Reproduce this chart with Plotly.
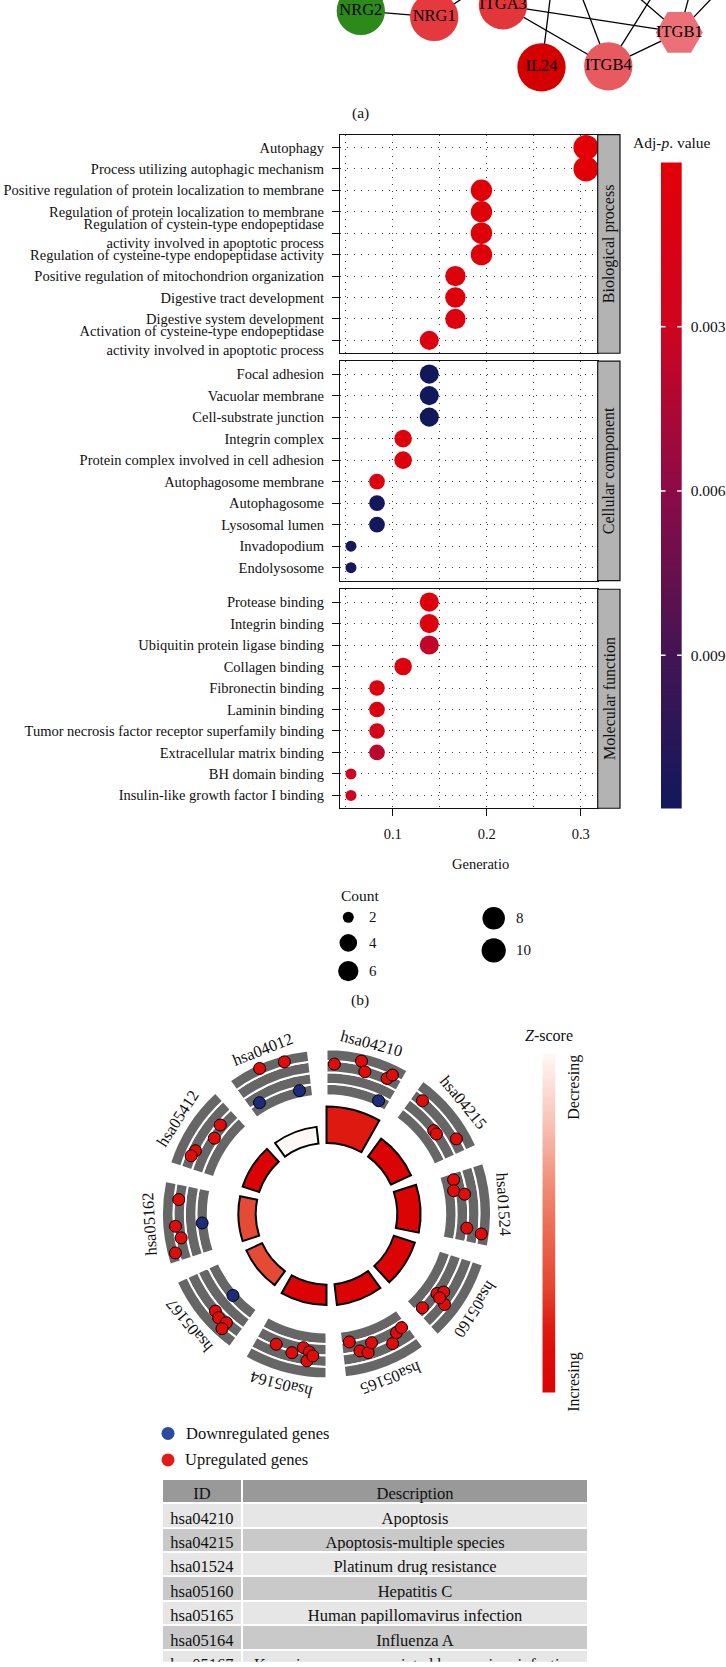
import numpy as np
import plotly.graph_objects as go

W, H = 726, 1667
SERIF = "Liberation Serif"
INK = "#111111"

# ---------------- (a) PPI network (bottom edge of the crop) ----------------
node_label = ["NRG2", "NRG1", "ITGA3", "IL24", "ITGB4", "ITGB1"]
node_x = [360.8, 434.2, 503.0, 541.5, 608.3, 679.3]
node_y = [11.0, 17.0, 5.3, 67.5, 66.5, 32.5]
node_fill = ["#2b8a1a", "#e4393f", "#e3363b", "#d40000", "#e75a60", "#eb7078"]
node_shape = ["circle", "circle", "circle", "circle", "circle", "hexagon2"]
# neighbours that lie above the cropped top edge (only their edges are visible)
offpage_x = [555, 568, 675, 595, 699, 748, 498, 430]
offpage_y = [-40, -40, -40, -40, -40, -40, -25, -25]
edge_from = ["NRG2", "ITGA3", "ITGA3", "ITGB4", "IL24", "ITGB4", "ITGB4", "ITGB1", "ITGB1", "ITGB1", "NRG1", "NRG2"]
edge_to = ["NRG1", "ITGB1", "ITGB4", "ITGB1", 0, 1, 2, 3, 4, 5, 6, 7]

# ---------------- (b) GO enrichment dot plot ----------------
bp_terms = ["Autophagy", "Process utilizing autophagic mechanism",
            "Positive regulation of protein localization to membrane",
            "Regulation of protein localization to membrane",
            "Regulation of cystein-type endopeptidase<br>activity involved in apoptotic process",
            "Regulation of cysteine-type endopeptidase activity",
            "Positive regulation of mitochondrion organization",
            "Digestive tract development", "Digestive system development",
            "Activation of cysteine-type endopeptidase<br>activity involved in apoptotic process"]
bp_ratio = [0.3056, 0.3056, 0.1944, 0.1944, 0.1944, 0.1944, 0.1667, 0.1667, 0.1667, 0.1389]
bp_count = [11, 11, 7, 7, 7, 7, 6, 6, 6, 5]
bp_padj = [0.00003, 0.00003, 0.0003, 0.0004, 0.0004, 0.0005, 0.0006, 0.0007, 0.0008, 0.0009]

cc_terms = ["Focal adhesion", "Vacuolar membrane", "Cell-substrate junction", "Integrin complex",
            "Protein complex involved in cell adhesion", "Autophagosome membrane", "Autophagosome",
            "Lysosomal lumen", "Invadopodium", "Endolysosome"]
cc_ratio = [0.1389, 0.1389, 0.1389, 0.1111, 0.1111, 0.0833, 0.0833, 0.0833, 0.0556, 0.0556]
cc_count = [5, 5, 5, 4, 4, 3, 3, 3, 2, 2]
cc_padj = [0.0118, 0.0118, 0.0118, 0.0006, 0.0006, 0.0009, 0.0117, 0.0117, 0.0115, 0.0115]

mf_terms = ["Protease binding", "Integrin binding", "Ubiquitin protein ligase binding", "Collagen binding",
            "Fibronectin binding", "Laminin binding", "Tumor necrosis factor receptor superfamily binding",
            "Extracellular matrix binding", "BH domain binding", "Insulin-like growth factor I binding"]
mf_ratio = [0.1389, 0.1389, 0.1389, 0.1111, 0.0833, 0.0833, 0.0833, 0.0833, 0.0556, 0.0556]
mf_count = [5, 5, 5, 4, 3, 3, 3, 3, 2, 2]
mf_padj = [0.0007, 0.0008, 0.0035, 0.0008, 0.0010, 0.0010, 0.0020, 0.0038, 0.0030, 0.0030]

facet_names = ["Biological process", "Cellular component", "Molecular function"]
count_legend = [2, 4, 6, 8, 10]
padj_ticks = [0.003, 0.006, 0.009]
gene_ratio_ticks = [0.1, 0.2, 0.3]

# ---------------- (c) KEGG GOCircle ----------------
kegg_id = ["hsa04210", "hsa04215", "hsa01524", "hsa05160", "hsa05165",
           "hsa05164", "hsa05167", "hsa05162", "hsa05412", "hsa04012"]
kegg_neglogp = [6.1, 3.7, 3.9, 3.7, 3.5, 3.4, 2.9, 2.9, 2.9, 2.8]
kegg_zscore = [1.63, 2.0, 2.24, 2.24, 2.65, 2.45, 1.34, 1.34, 2.0, 0.0]

gene_theta = [3.0, 12.9, 15.1, 24.1, 25.4, 24.7,
              40.3, 52.2, 54.0, 60.0,
              75.0, 79.7, 81.9, 95.8, 97.4,
              134.4, 125.8, 123.7, 127.5, 126.6,
              169.9, 166.3, 163.3, 160.7, 153.0, 149.5, 146.6,
              201.1, 194.0, 189.8, 187.1, 187.6, 185.5,
              228.9, 228.8, 226.1, 222.6, 222.3,
              275.5, 265.8, 265.3, 260.6, 255.5,
              309.9, 304.0, 295.7, 293.2,
              335.3, 344.5, 347.6, 328.9]
gene_r = [150.4, 157.2, 147.6, 148.8, 154.1, 124.9,
          148.8, 136.1, 136.3, 150.4,
          132.0, 129.6, 139.9, 141.5, 156.5,
          134.6, 136.6, 141.3, 149.3, 141.3,
          130.5, 141.5, 145.3, 136.9, 146.0, 138.3, 136.7,
          140.2, 143.5, 136.2, 139.6, 148.8, 143.2,
          124.5, 148.1, 150.2, 148.4, 155.7,
          148.9, 125.1, 152.0, 147.8, 156.5,
          138.9, 135.7, 145.9, 147.7,
          160.5, 158.2, 126.5, 130.2]
gene_reg = (["up"] * 5 + ["down"] + ["up"] * 4 + ["up"] * 5 + ["up"] * 5 + ["up"] * 7 + ["up"] * 6
            + ["down"] + ["up"] * 4 + ["up", "down", "up", "up", "up"] + ["up"] * 4
            + ["up", "up", "down", "down"])
gene_legend = ["Downregulated genes", "Upregulated genes"]

table_id = ["hsa04210", "hsa04215", "hsa01524", "hsa05160", "hsa05165", "hsa05164", "hsa05167"]
table_desc = ["Apoptosis", "Apoptosis-multiple species", "Platinum drug resistance", "Hepatitis C",
              "Human papillomavirus infection", "Influenza A",
              "Kaposi sarcoma-associated herpesvirus infection"]

# ---------------- styles / scales ----------------
P_SCALE = [[0, "#e20006"], [0.25, "#cf0420"], [0.5, "#8e0b46"], [0.75, "#461453"], [1, "#11185c"]]
P_MIN, P_MAX = 0.0, 0.0118
Z_SCALE = [[0, "#fff8f6"], [0.2, "#f8c4b8"], [0.4, "#ef8a72"], [0.5, "#ec7058"],
           [0.68, "#e54833"], [0.8, "#df1d12"], [0.88, "#dc0d08"], [1, "#da0404"]]
Z_MIN, Z_MAX = 0.0, 2.0
RED, NAVY = "#e00b0b", "#1c2b7a"


def size_scale(c):
    c = np.asarray(c, dtype=float)
    return 11 + 14 * np.sqrt((c - 2) / 9)


def px(x, y):
    return x / W, 1 - y / H


def ann(text, x, y, size, angle=0, xanchor="center", yanchor="middle"):
    ax_, ay_ = px(x, y)
    return dict(text=text, x=ax_, y=ay_, xref="paper", yref="paper", showarrow=False,
                font=dict(family=SERIF, size=size, color=INK), textangle=angle,
                xanchor=xanchor, yanchor=yanchor)


fig = go.Figure()
annotations = []
shapes = []

# ---- network ----
pos = {n: (x, y) for n, x, y in zip(node_label, node_x, node_y)}
ex, ey = [], []
for a, b in zip(edge_from, edge_to):
    x0, y0 = pos[a]
    x1, y1 = pos[b] if isinstance(b, str) else (offpage_x[b], offpage_y[b])
    ex += [x0, x1, None]
    ey += [y0, y1, None]
fig.add_trace(go.Scatter(x=ex, y=ey, mode="lines", line=dict(color="black", width=1.3),
                         xaxis="x6", yaxis="y6", hoverinfo="skip"))
fig.add_trace(go.Scatter(x=node_x, y=node_y, mode="markers+text", text=node_label,
                         textposition="middle center",
                         textfont=dict(family=SERIF, size=16.5, color="black"),
                         marker=dict(size=[48.3] * 5 + [47], color=node_fill, symbol=node_shape,
                                     opacity=1, line=dict(width=0)),
                         xaxis="x6", yaxis="y6", hoverinfo="skip"))
annotations.append(ann("(a)", 360, 113, 15.5))

# ---- dot plot ----
X0 = 0.1 - 52.7 / 940
X1 = 0.1 + 205.0 / 940
panel_px = [(135.0, 354.3), (362.3, 582.3), (591.0, 810.7)]
panels = [(bp_terms, bp_ratio, bp_count, bp_padj),
          (cc_terms, cc_ratio, cc_count, cc_padj),
          (mf_terms, mf_ratio, mf_count, mf_padj)]
GRID = dict(showgrid=True, gridcolor="#3a3a3a", gridwidth=1, griddash="1px,6px")
layout_axes = {}
for i, (terms, ratio, count, padj) in enumerate(panels):
    k = "" if i == 0 else str(i + 1)
    fig.add_trace(go.Scatter(x=ratio, y=terms, mode="markers",
                             marker=dict(size=size_scale(count), color=padj, colorscale=P_SCALE,
                                         cmin=P_MIN, cmax=P_MAX, line=dict(width=0), opacity=1),
                             xaxis="x" + k, yaxis="y" + k, hoverinfo="skip"))
    top, bot = panel_px[i]
    last = i == 2
    layout_axes["xaxis" + k] = dict(
        domain=[340 / W, 597.7 / W], range=[X0, X1], anchor="y" + k,
        showline=True, mirror=True, linecolor=INK, linewidth=1.2, zeroline=False,
        tickvals=gene_ratio_ticks, ticktext=[f"{v:.1f}" for v in gene_ratio_ticks],
        ticks="outside" if last else "", ticklen=7, tickwidth=1.2, tickcolor=INK,
        showticklabels=last, tickfont=dict(family=SERIF, size=14.5, color=INK),
        ticklabelstandoff=5,
        minor=dict(tickvals=[0.05, 0.15, 0.25], ticks="", **GRID), **GRID)
    layout_axes["yaxis" + k] = dict(
        domain=[1 - bot / H, 1 - top / H], anchor="x" + k, type="category",
        categoryorder="array", categoryarray=terms, range=[len(terms) - 0.4, -0.6],
        showline=True, mirror=True, linecolor=INK, linewidth=1.2, zeroline=False,
        ticks="outside", ticklen=7, tickwidth=1.2, tickcolor=INK,
        tickfont=dict(family=SERIF, size=14.5, color=INK), ticklabelstandoff=5, **GRID)
    # facet strip
    shapes.append(dict(type="rect", xref="paper", yref="paper", x0=597.7 / W, x1=620 / W,
                       y0=1 - bot / H, y1=1 - top / H, fillcolor="#b3b3b3",
                       line=dict(color=INK, width=1.2), layer="above"))
    annotations.append(ann(facet_names[i], 609.3, (top + bot) / 2, 16, angle=-90))

annotations.append(ann("Generatio", 480, 866.7, 14.5))
annotations.append(ann("Adj-<i>p</i>. value", 671.7, 142.8, 15.5))

# p-value colour key
p_ramp = np.linspace(P_MIN, P_MAX, 300)
fig.add_trace(go.Heatmap(x=[0], y=p_ramp, z=[[v] for v in p_ramp], colorscale=P_SCALE,
                         zmin=P_MIN, zmax=P_MAX, showscale=False, xaxis="x4", yaxis="y4",
                         hoverinfo="skip"))
layout_axes["xaxis4"] = dict(domain=[661 / W, 681.7 / W], anchor="y4", range=[-0.5, 0.5], visible=False)
layout_axes["yaxis4"] = dict(domain=[1 - 811 / H, 1 - 162.9 / H], anchor="x4", range=[P_MAX, P_MIN],
                             side="right", tickvals=padj_ticks, ticktext=[f"{v:.3f}" for v in padj_ticks],
                             ticks="", showline=False, showgrid=False, zeroline=False,
                             ticklabelstandoff=8, tickfont=dict(family=SERIF, size=15.5, color=INK))
for v in padj_ticks:
    for xa, xb in ((0.0, 0.22), (0.78, 1.0)):
        shapes.append(dict(type="line", xref="x4 domain", yref="y4", x0=xa, x1=xb, y0=v, y1=v,
                           line=dict(color="white", width=1.5), layer="above"))

# Count legend (page overlay axis x7/y7)
key_x = [348.3, 348.3, 348.3, 493.7, 493.7]
key_y = [920.0, 945.7, 974.0, 921.0, 953.3]
lab_x = [367.0, 367.0, 367.0, 514.0, 514.0]
fig.add_trace(go.Scatter(x=key_x, y=key_y, mode="markers",
                         marker=dict(size=size_scale(count_legend), color="black", opacity=1,
                                     line=dict(width=0)),
                         xaxis="x7", yaxis="y7", hoverinfo="skip"))
for v, lx, ly in zip(count_legend, lab_x, key_y):
    annotations.append(ann(str(v), lx, ly, 15, xanchor="left"))
annotations.append(ann("Count", 339, 898, 15.5, xanchor="left"))
annotations.append(ann("(b)", 360, 1003, 15.5))

# ---- GOCircle ----
CX, CY, RMAX = 326.5, 1217.5, 170.0
SECTOR, SPAN = 36.0, 29.5
R_IN, BAR_PX = 71.0, 6.0
RING_IN, TRACK = 119.0, 11.5
mid = [SECTOR * k + SPAN / 2 for k in range(len(kegg_id))]

ring_theta = [m for m in mid for _ in range(4)]
ring_base = [RING_IN + TRACK * j for _ in mid for j in range(4)]
fig.add_trace(go.Barpolar(theta=ring_theta, r=[TRACK] * len(ring_theta), base=ring_base,
                          width=[SPAN] * len(ring_theta),
                          marker=dict(color="#666666", line=dict(color="white", width=2)),
                          hoverinfo="skip"))
fig.add_trace(go.Barpolar(theta=mid, r=[v * BAR_PX for v in kegg_neglogp], base=R_IN,
                          width=[SPAN] * len(mid),
                          marker=dict(color=kegg_zscore, colorscale=Z_SCALE, cmin=Z_MIN, cmax=Z_MAX,
                                      line=dict(color="black", width=2)),
                          hoverinfo="skip"))
for reg, col in (("up", RED), ("down", NAVY)):
    th = [t for t, g in zip(gene_theta, gene_reg) if g == reg]
    rr = [r for r, g in zip(gene_r, gene_reg) if g == reg]
    fig.add_trace(go.Scatterpolar(theta=th, r=rr, mode="markers",
                                  marker=dict(size=12, color=col, opacity=1,
                                              line=dict(color="black", width=1)),
                                  hoverinfo="skip"))
for name, m in zip(kegg_id, mid):
    t = np.deg2rad(m)
    annotations.append(ann(name, CX + 177 * np.sin(t), CY - 177 * np.cos(t), 16.5,
                           angle=m if m <= 180 else m - 360))

# z-score key
z_ramp = np.linspace(Z_MIN, Z_MAX, 300)
fig.add_trace(go.Heatmap(x=[0], y=z_ramp, z=[[v] for v in z_ramp], colorscale=Z_SCALE,
                         zmin=Z_MIN, zmax=Z_MAX, showscale=False, xaxis="x5", yaxis="y5",
                         hoverinfo="skip"))
layout_axes["xaxis5"] = dict(domain=[542.3 / W, 555.7 / W], anchor="y5", range=[-0.5, 0.5], visible=False)
layout_axes["yaxis5"] = dict(domain=[1 - 1396.7 / H, 1 - 1056.7 / H], anchor="x5",
                             range=[Z_MAX, Z_MIN], visible=False)
annotations.append(ann("<i>Z</i>-score", 548.7, 1038.3, 16))
annotations.append(ann("Decresing", 574, 1091, 16, angle=-90))
annotations.append(ann("Incresing", 574, 1386, 16, angle=-90))

# gene legend
fig.add_trace(go.Scatter(x=[168, 168], y=[1437.7, 1464.3], mode="markers",
                         marker=dict(size=13, color=["#2b4ba0", "#e31a1c"], opacity=1,
                                     line=dict(width=0)),
                         xaxis="x7", yaxis="y7", hoverinfo="skip"))
annotations.append(ann(gene_legend[0], 183.5, 1437.7, 16.5, xanchor="left"))
annotations.append(ann(gene_legend[1], 183.5, 1464.3, 16.5, xanchor="left"))

# table
row_fill = ["#e6e6e6" if i % 2 == 0 else "#c9c9c9" for i in range(len(table_id))]
fig.add_trace(go.Table(
    domain=dict(x=[161.7 / W, 587.7 / W], y=[0, 1 - 1483.3 / H]),
    columnwidth=[80, 343],
    header=dict(values=["ID", "Description"], fill_color="#999999", height=24.4,
                line=dict(color="white", width=2), align="center",
                font=dict(family=SERIF, size=16.5, color=INK)),
    cells=dict(values=[table_id, table_desc], fill_color=[row_fill, row_fill], height=24.4,
               line=dict(color="white", width=2), align="center",
               font=dict(family=SERIF, size=16.5, color=INK))))

layout_axes["xaxis6"] = dict(domain=[0, 1], anchor="y6", range=[0, W], visible=False)
layout_axes["yaxis6"] = dict(domain=[1 - 120 / H, 1], anchor="x6", range=[120, 0], visible=False)
layout_axes["xaxis7"] = dict(domain=[0, 1], anchor="y7", range=[0, W], visible=False)
layout_axes["yaxis7"] = dict(domain=[0, 1], anchor="x7", range=[H, 0], visible=False)

fig.update_layout(
    width=W, height=H, autosize=False, margin=dict(l=0, r=0, t=0, b=0),
    paper_bgcolor="white", plot_bgcolor="rgba(0,0,0,0)", showlegend=False,
    font=dict(family=SERIF, color=INK),
    polar=dict(domain=dict(x=[(CX - RMAX) / W, (CX + RMAX) / W],
                           y=[1 - (CY + RMAX) / H, 1 - (CY - RMAX) / H]),
               bgcolor="rgba(0,0,0,0)", barmode="overlay", hole=0,
               radialaxis=dict(range=[0, RMAX], visible=False, showgrid=False),
               angularaxis=dict(rotation=90, direction="clockwise", visible=False, showgrid=False)),
    annotations=annotations, shapes=shapes, **layout_axes)

fig.write_html("out.html", config={"displayModeBar": False},
               post_script="document.body.style.margin='0px';")
